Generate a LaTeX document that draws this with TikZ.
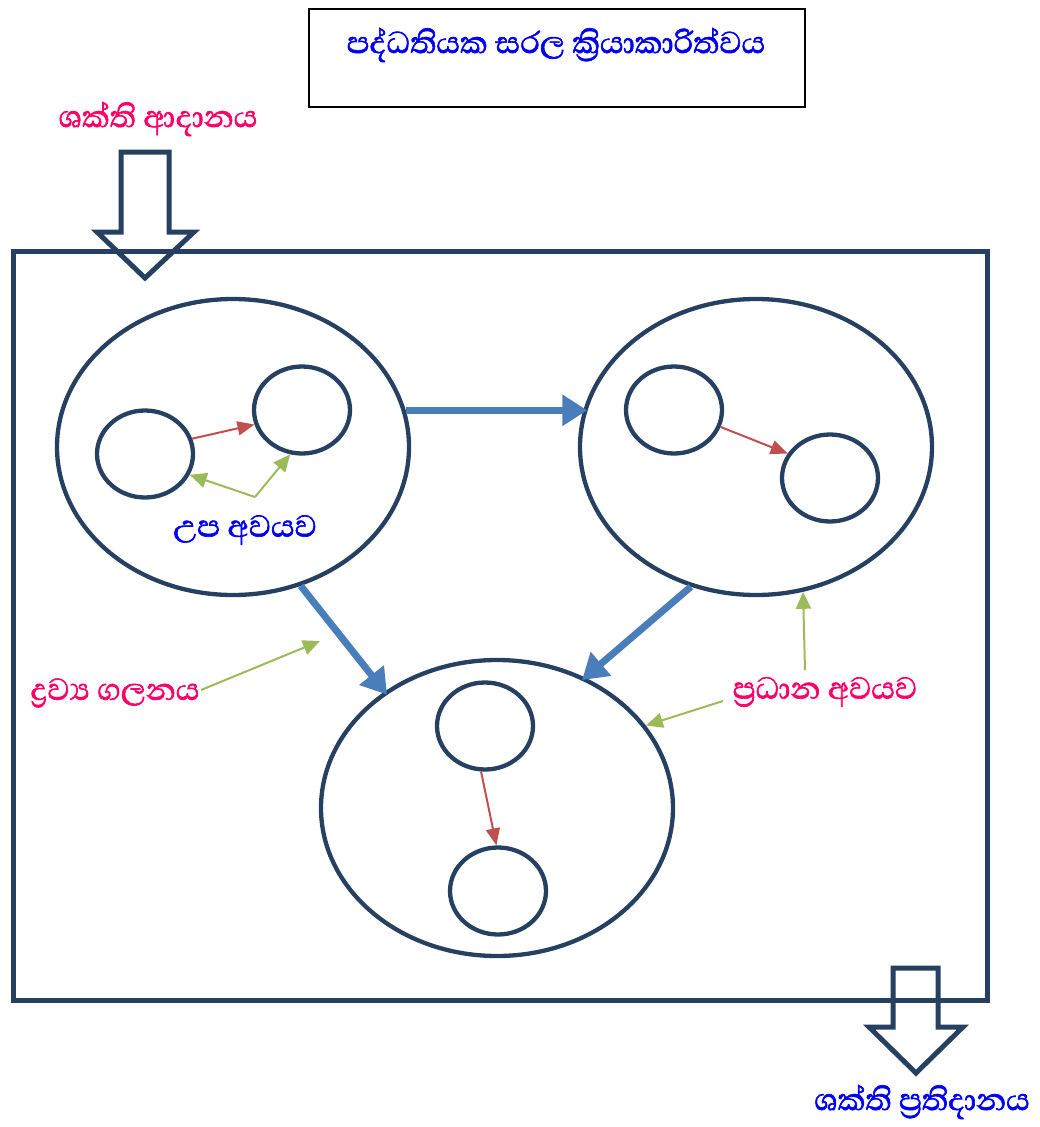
\documentclass[tikz,border=0pt]{standalone}
\usepackage{fontspec}
\newfontfamily\sinfont[Script=Sinhala,FakeBold=1.6]{Abhaya Libre}
\usepackage{xcolor}
\definecolor{framenavy}{RGB}{37,64,97}
\definecolor{labelpink}{RGB}{255,0,102}
\definecolor{labelblue}{RGB}{0,0,245}
\definecolor{flowblue}{RGB}{74,126,187}
\definecolor{linkred}{RGB}{192,80,77}
\definecolor{notegreen}{RGB}{155,187,89}
\usepackage{tikz}
\usetikzlibrary{shapes.geometric,arrows.meta,positioning,calc}

\begin{document}
\begin{tikzpicture}[
  x=1pt, y=-1pt,
  font=\sinfont\fontsize{39}{45}\selectfont,
  organ/.style={ellipse, draw=framenavy, line width=4.3pt, minimum width=352pt, minimum height=296pt, inner sep=0pt},
  part/.style={ellipse, draw=framenavy, line width=4.3pt, minimum width=96pt, minimum height=87pt, inner sep=0pt},
  flow/.style={-{Triangle[length=25pt,width=30pt]}, line width=7pt, color=flowblue, shorten >=-4pt},
  link/.style={-{Triangle[length=17pt,width=14pt]}, line width=2pt, color=linkred},
  note/.style={-{Triangle[length=17pt,width=15pt]}, line width=2pt, color=notegreen},
  hollow/.style={draw=framenavy, line width=5pt, line join=miter}
]
\useasboundingbox (0,0) rectangle (1040,1127);

%% Title
\node[draw=black, line width=1.5pt, minimum width=496pt, minimum height=98pt,
      anchor=north west, inner sep=0pt] (ttl) at (308,8) {};
\node[text=labelblue] (ttltxt) at (556,45) {පද්ධතියක සරල ක්‍රියාකාරිත්වය};

%% System boundary
\node[draw=framenavy, line width=5pt, minimum width=974pt, minimum height=749pt,
      anchor=north west, inner sep=0pt] (sys) at (11,249) {};

%% Energy in / out
\node[text=labelpink] (ein) at (158,119) {ශක්ති ආදානය};
\draw[hollow] (121,152) -- (169,152) -- (169,232) -- (194,232) -- (145,278)
  -- (97,232) -- (121,232) -- cycle;
\draw[hollow] (893,968) -- (938,968) -- (938,1027) -- (963,1027) -- (916,1073)
  -- (869,1027) -- (893,1027) -- cycle;
\node[text=labelblue, anchor=east, inner sep=0pt] (eout) at (1030,1102) {ශක්ති ප්‍රතිදානය};

%% Main organs
\node[organ] (o1) at (233,447) {};
\node[organ] (o2) at (756,447) {};
\node[organ] (o3) at (497,808) {};

%% Sub parts
\node[part] (p1a) at (145,454) {};
\node[part] (p1b) at (302,410) {};
\node[part] (p2a) at (674,410) {};
\node[part] (p2b) at (830,478) {};
\node[part] (p3a) at (485,726) {};
\node[part] (p3b) at (498,891) {};

\draw[link] (p1a.18) -- (p1b.197);
\draw[link] (p2a.-20) -- (p2b.150);
\draw[link] (p3a.-95) -- (p3b.92);

%% Material flow
\draw[flow] (o1.12) -- (o2.168);
\draw[flow] (o1.-64) -- (o3.134);
\draw[flow] (o2.-115) -- (o3.56);

%% Labels with pointers
\node[text=labelblue] (sub) at (245,530) {උප අවයව};
\coordinate (subtip) at (255,497);
\draw[note] (subtip) -- (p1a.-25);
\draw[note] (subtip) -- (p1b.-105);

\node[text=labelpink] (mat) at (115,693) {ද්‍රව්‍ය ගලනය};
\coordinate (mattgt) at (320,641);
\draw[note] (mat.east) ++(-2,-3) -- (mattgt);

\node[text=labelpink] (main) at (825,692) {ප්‍රධාන අවයව};
\draw[note] (805,670) -- (o2.-72);
\draw[note] (723,701) -- (o3.29);

\end{tikzpicture}
\end{document}
